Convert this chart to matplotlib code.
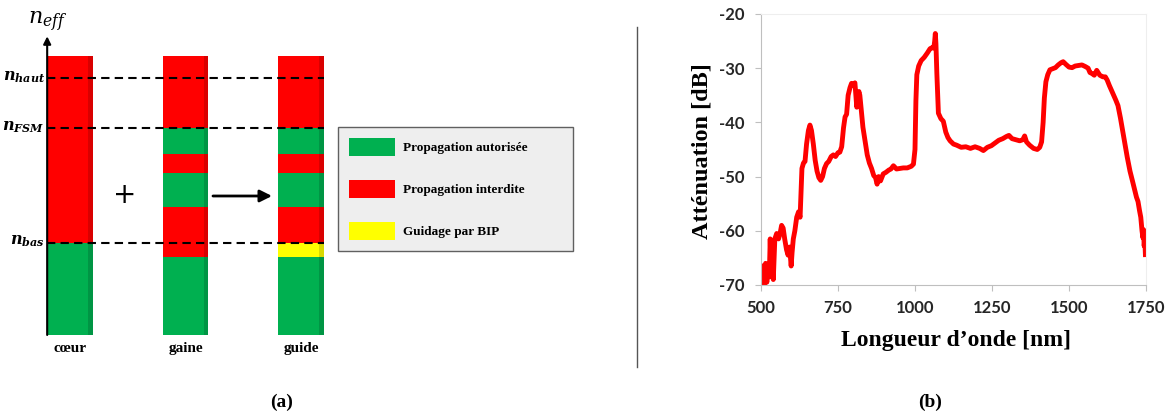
import numpy as np
import matplotlib
matplotlib.use('Agg')
import matplotlib.pyplot as plt
from matplotlib.patches import Patch
from matplotlib.lines import Line2D

plt.rcParams['mathtext.fontset'] = 'custom'
plt.rcParams['mathtext.it'] = 'DejaVu Serif:italic'
plt.rcParams['mathtext.bf'] = 'DejaVu Serif:italic:bold'
plt.rcParams['mathtext.rm'] = 'DejaVu Serif'
plt.rcParams['axes.unicode_minus'] = False

# ---- (a) n_eff diagram: segment boundaries (arbitrary n_eff units, 0..100) ----
columns = ['cœur', 'gaine', 'guide']
coeur_bounds = [0, 33, 100]
coeur_kinds = ['ok', 'no']
gaine_bounds = [0, 28, 46, 58, 65, 74, 100]
gaine_kinds = ['ok', 'no', 'ok', 'no', 'ok', 'no']
guide_bounds = [0, 28, 33, 46, 58, 65, 74, 100]
guide_kinds = ['ok', 'bip', 'no', 'ok', 'no', 'ok', 'no']
level_values = [92, 74, 33]
level_labels = [r'$\mathbf{n}_{\mathbf{haut}}$', r'$\mathbf{n}_{\mathbf{FSM}}$', r'$\mathbf{n}_{\mathbf{bas}}$']
kind_names = ['Propagation autorisée', 'Propagation interdite', 'Guidage par BIP']

# ---- (b) attenuation spectrum ----
wavelength_nm = [500, 503, 507, 511, 515, 519, 523, 527, 530, 533,
                 536, 540, 545, 551, 557, 562, 567, 572, 577, 583,
                 588, 593, 598, 601, 605, 610, 616, 622, 627, 630,
                 633, 638, 643, 648, 654, 659, 664, 670, 676, 682,
                 688, 694, 700, 706, 713, 720, 728, 735, 742, 750,
                 756, 762, 768, 773, 778, 783, 789, 794, 799, 805,
                 808, 811, 815, 818, 821, 826, 831, 838, 845, 852,
                 859, 866, 872, 877, 882, 888, 897, 906, 915, 922,
                 930, 940, 952, 962, 975, 988, 995, 1000, 1003, 1006,
                 1012, 1020, 1030, 1040, 1049, 1056, 1061, 1064, 1066, 1068,
                 1071, 1076, 1084, 1092, 1100, 1107, 1114, 1125, 1135, 1150,
                 1165, 1180, 1195, 1210, 1222, 1235, 1248, 1260, 1272, 1285,
                 1297, 1305, 1315, 1328, 1340, 1350, 1356, 1362, 1372, 1385,
                 1397, 1405, 1411, 1416, 1420, 1425, 1431, 1438, 1447, 1456,
                 1465, 1474, 1481, 1490, 1500, 1510, 1520, 1532, 1542, 1553,
                 1562, 1568, 1575, 1582, 1590, 1600, 1610, 1618, 1624, 1631,
                 1638, 1645, 1652, 1659, 1667, 1674, 1681, 1689, 1698, 1706,
                 1714, 1719, 1724, 1729, 1733, 1737, 1740, 1742, 1744, 1746, 1748]
attenuation_db = [-66.5, -69.5, -67, -70, -66, -69.5, -66.5, -68.5, -61.5, -68,
                  -62, -69, -61.5, -60.5, -61.5, -60.5, -59, -59.5, -61.5, -63.5,
                  -64.5, -63, -66.5, -64, -61.5, -60, -57.5, -56.5, -57.5, -53,
                  -48.5, -47.5, -47.2, -44, -41.5, -40.5, -41.5, -44, -47, -49,
                  -50.2, -50.7, -50, -48.5, -47.6, -47.2, -46.3, -46, -46.3, -45.6,
                  -45.5, -44.5, -41, -39, -38.5, -35, -33.6, -32.8, -33.2, -32.7,
                  -35, -37.2, -35, -34.3, -35, -38, -40.9, -43.5, -46, -47.5,
                  -48.5, -49.8, -50.2, -51.4, -50, -50.8, -49.5, -49.2, -48.8, -48.6,
                  -48, -48.6, -48.5, -48.4, -48.4, -48.1, -47.7, -45, -36, -31.2,
                  -29.6, -28.6, -28, -27.2, -26.4, -26.2, -26.3, -25, -23.6, -25.5,
                  -31, -38.3, -39.3, -39.8, -41.8, -42.8, -43.4, -44, -44.2, -44.6,
                  -44.5, -44.8, -44.5, -44.8, -45.2, -44.6, -44.3, -43.8, -43.3, -43,
                  -42.6, -42.4, -43, -43.2, -43.4, -43.2, -42.5, -43.6, -44.2, -44.8,
                  -45, -44.6, -43.6, -40, -35.5, -32.5, -31.2, -30.3, -30.1, -29.9,
                  -29.4, -29, -28.8, -29.3, -29.8, -29.9, -29.6, -29.5, -29.4, -29.7,
                  -30, -30.8, -31, -31.3, -30.4, -31.3, -31.6, -31.6, -32.2, -33.2,
                  -34.1, -35, -35.9, -36.9, -39.2, -41.5, -43.8, -46.4, -49, -50.8,
                  -52.7, -53.8, -54.6, -56.3, -57.5, -60, -61.3, -59.8, -62.8, -61.5, -64.4]
x_ticks = [500, 750, 1000, 1250, 1500, 1750]
y_ticks = [-70, -60, -50, -40, -30, -20]

kind_colors = {'ok': '#00b050', 'no': '#ff0000', 'bip': '#ffff00'}
serif = 'Liberation Serif'

fig = plt.figure(figsize=(11.7, 4.15), dpi=100)

# ---------------- panel (a) ----------------
ax_a = fig.add_axes([0, 0.1928, 0.5444, 0.7398])
ax_a.set_xlim(-0.606, 4.909)
ax_a.set_ylim(0, 110)
ax_a.axis('off')

bar_w = 0.395
all_bounds = [coeur_bounds, gaine_bounds, guide_bounds]
all_kinds = [coeur_kinds, gaine_kinds, guide_kinds]
for i, (bounds, kinds) in enumerate(zip(all_bounds, all_kinds)):
    for b0, b1, k in zip(bounds[:-1], bounds[1:], kinds):
        ax_a.bar(i, b1 - b0, bottom=b0, width=bar_w, color=kind_colors[k], zorder=2)
    # slight shading on the right edge of each column
    ax_a.bar(i + bar_w / 2 - 0.02, bounds[-1], width=0.04, color='black', alpha=0.15, zorder=3)
    ax_a.text(i, -4.7, columns[i], ha='center', va='center', fontsize=11,
              fontweight='bold', family=serif)

x_axis = -bar_w / 2
ax_a.hlines(level_values, x_axis, 2 + bar_w / 2, colors='black', linestyles=(0, (4, 2.5)),
            lw=1.5, zorder=4)
for v, lab in zip(level_values, level_labels):
    ax_a.text(x_axis - 0.02, v + 0.5, lab, ha='right', va='center', fontsize=11.5)

ax_a.annotate('', xy=(x_axis, 107), xytext=(x_axis, 0),
              arrowprops=dict(arrowstyle='-|>', lw=1.5, color='black', mutation_scale=11,
                              shrinkA=0, shrinkB=0), zorder=5)
ax_a.text(x_axis, 112, r'$n_{eff}$', ha='center', va='center', fontsize=16)

ax_a.text(0.476, 50, '+', ha='center', va='center', fontsize=20)
ax_a.annotate('', xy=(1.749, 49.8), xytext=(1.238, 49.8),
              arrowprops=dict(arrowstyle='-|>', lw=2, color='black', mutation_scale=18,
                              shrinkA=0, shrinkB=0))

handles = [Patch(facecolor=kind_colors[k], edgecolor='none') for k in ['ok', 'no', 'bip']]
leg = fig.legend(handles, kind_names, loc='upper left',
                 bbox_to_anchor=(0.2889, 0.3663, 0.2009, 0.3277), mode='expand',
                 frameon=True, fancybox=False, framealpha=1, facecolor='#eeeeee',
                 edgecolor='#606060', borderaxespad=0, borderpad=0.83,
                 handlelength=3.5, handleheight=1.74, labelspacing=1.8, handletextpad=0.6,
                 prop={'family': serif, 'weight': 'bold', 'size': 9.5})
leg.get_frame().set_linewidth(1.0)

# separator
fig.add_artist(Line2D([637 / 1170, 637 / 1170], [1 - 27 / 415, 1 - 367 / 415],
                      color='#555555', lw=1))

# ---------------- panel (b) ----------------
ax_b = fig.add_axes([0.6504, 0.3133, 0.3291, 0.653])
ax_b.plot(wavelength_nm, attenuation_db, color='#ff0000', lw=3.5, solid_joinstyle='round')
ax_b.set_xlim(500, 1750)
ax_b.set_ylim(-70, -20)
ax_b.set_xticks(x_ticks)
ax_b.set_yticks(y_ticks)
for s in ['left', 'bottom']:
    ax_b.spines[s].set_color('#bfbfbf')
for s in ['top', 'right']:
    ax_b.spines[s].set_color('#eeeeee')
ax_b.tick_params(axis='both', length=4, color='#bfbfbf', labelcolor='#262626', labelsize=12)
ax_b.tick_params(axis='y', pad=8)
ax_b.tick_params(axis='x', pad=7)
for lab in ax_b.get_xticklabels() + ax_b.get_yticklabels():
    lab.set_family('Lato')
    lab.set_fontweight('bold')

ax_b.set_ylabel('Atténuation [dB]', family=serif, fontweight='bold', fontsize=17.5)
ax_b.yaxis.set_label_coords(-0.127, 0.494)
ax_b.set_xlabel('Longueur d’onde [nm]', family=serif, fontweight='bold', fontsize=17)
ax_b.xaxis.set_label_coords(0.506, -0.166)

fig.text(282 / 1170, 1 - 402 / 415, '(a)', ha='center', va='center', fontsize=14,
         fontweight='bold', family=serif)
fig.text(930 / 1170, 1 - 402 / 415, '(b)', ha='center', va='center', fontsize=14,
         fontweight='bold', family=serif)

fig.savefig('out.png', dpi=100)
